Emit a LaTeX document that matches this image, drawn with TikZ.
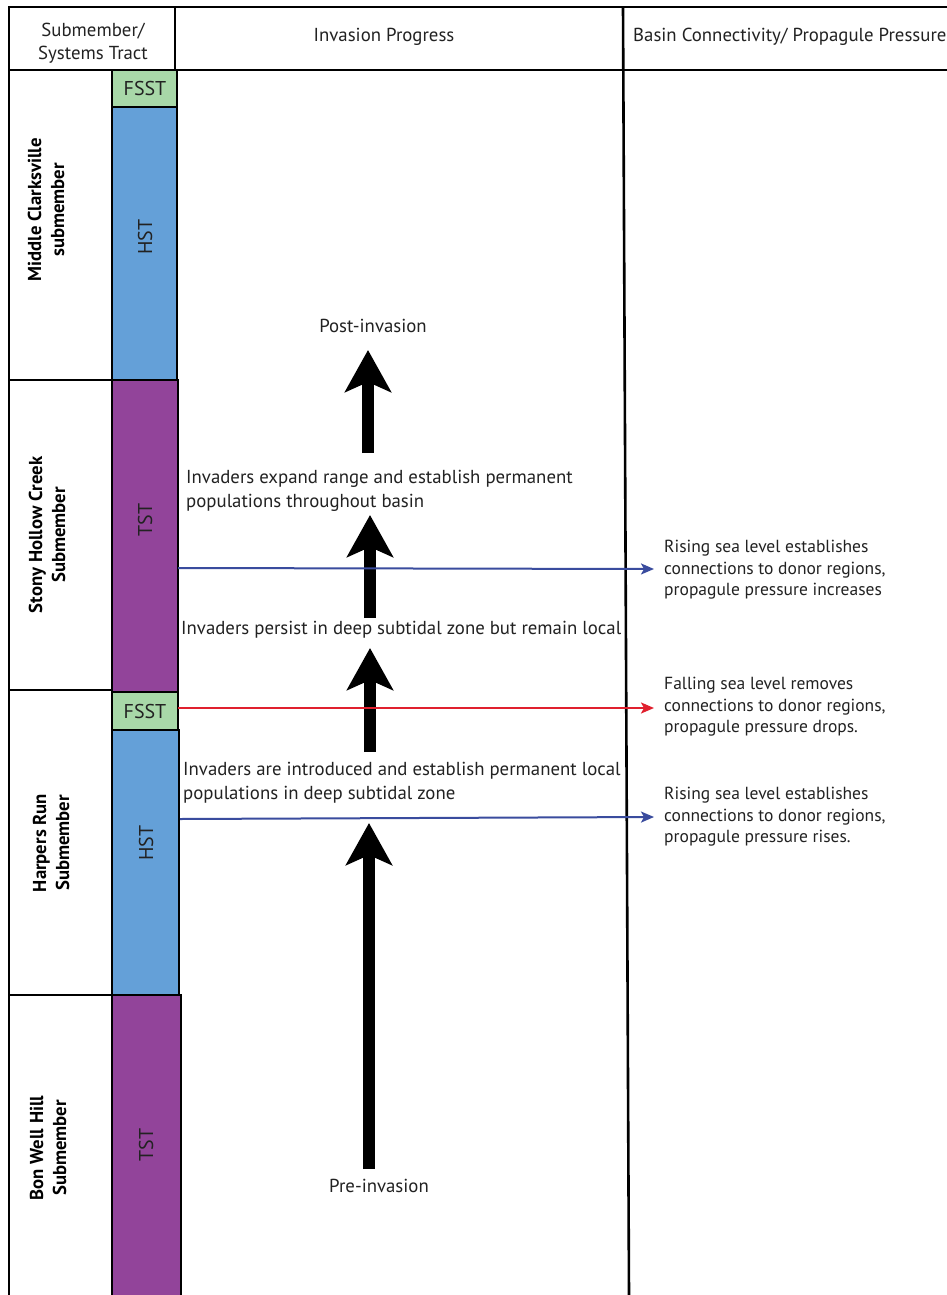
\documentclass[tikz,border=0pt]{standalone}
\usepackage{fontspec}
\setmainfont{PT Sans}
\usetikzlibrary{arrows.meta}
\definecolor{fsst}{HTML}{A8D8A8}
\definecolor{hst}{HTML}{64A0D8}
\definecolor{tst}{HTML}{92449A}
\definecolor{rise}{HTML}{3A4C9E}
\definecolor{fall}{HTML}{E0202E}
\definecolor{ink}{HTML}{222222}
\begin{document}
\begin{tikzpicture}[x=1pt,y=-1pt,
  frame/.style={line width=2.6pt,black},
  bar/.style={draw=black,line width=2.4pt},
  barlbl/.style={font=\fontsize{20}{20}\selectfont,text=ink,inner sep=0pt},
  sublbl/.style={font=\bfseries\fontsize{18.7}{23}\selectfont,align=center,rotate=90,text=black,inner sep=0pt},
  head/.style={font=\fontsize{18.8}{22.5}\selectfont,align=center,text=ink,inner sep=0pt},
  prog/.style={font=\fontsize{18.8}{24}\selectfont,align=left,anchor=base west,text=ink,inner sep=0pt},
  note/.style={font=\fontsize{17.5}{21.5}\selectfont,align=left,anchor=west,text=ink,inner sep=0pt},
  bigarrow/.style={line width=12pt,-{Stealth[length=42pt,width=46pt,inset=10pt]}},
  rising/.style={rise,line width=2pt,-{Stealth[length=13pt,width=11pt,inset=3pt]}},
  falling/.style={fall,line width=2.2pt,-{Stealth[length=13pt,width=11pt,inset=3pt]}},
]
\useasboundingbox (0,0) rectangle (947,1295);
\fill[white] (0,0) rectangle (947,1295);

% bars
\path[bar,fill=fsst] (112,70) rectangle (177,107);
\path[bar,fill=hst] (112,107) rectangle (177,380);
\path[bar,fill=tst] (112,380) rectangle (178,692);
\path[bar,fill=fsst] (112,692) rectangle (178,730);
\path[bar,fill=hst] (112,730) rectangle (179,995);
\path[bar,fill=tst] (112,995) rectangle (181,1300);

% frame
\draw[frame] (8,7) -- (947,7);
\draw[frame] (9,70) -- (947,70);
\draw[frame] (9,7) -- (9,1295);
\draw[frame] (175,7) -- (175,70);
\draw[frame] (623,7) -- (629,1295);
\draw[frame] (9,380) -- (112,380);
\draw[frame] (9,690) -- (112,690);
\draw[frame] (9,995) -- (112,995);

% headers
\node[head] (h1) at (93,43) {Submember/\\Systems Tract};
\node[head] (h2) at (384,37) {Invasion Progress};
\node[head,anchor=west] (h3) at (633,37) {Basin Connectivity/ Propagule Pressure};

% submember labels
\node[sublbl] (s1) at (46,210) {Middle Clarksville\\submember};
\node[sublbl] (s2) at (47,535) {Stony Hollow Creek\\Submember};
\node[sublbl] (s3) at (51,843) {Harpers Run\\Submember};
\node[sublbl] (s4) at (48,1148) {Bon Well Hill\\Submember};

% bar labels
\node[barlbl] (b1) at (145,89) {FSST};
\node[barlbl,rotate=90] (b2) at (145,237) {HST};
\node[barlbl,rotate=90] (b3) at (145,520) {TST};
\node[barlbl] (b4) at (145,711) {FSST};
\node[barlbl,rotate=90] (b5) at (146,843) {HST};
\node[barlbl,rotate=90] (b6) at (146,1145) {TST};

% progress texts
\node[prog,anchor=base] (post) at (373,332) {Post-invasion};
\node[prog] (expand) at (186,507) {Invaders expand range and establish permanent\\populations throughout basin};
\node[prog] (persist) at (181,634) {Invaders persist in deep subtidal zone but remain local};
\node[prog] (intro) at (183,799) {Invaders are introduced and establish permanent local\\populations in deep subtidal zone};
\node[prog,anchor=base] (pre) at (379,1192) {Pre-invasion};

% big arrows
\coordinate (a1s) at (368,453); \coordinate (a1e) at (368,350);
\coordinate (a2s) at (370,618); \coordinate (a2e) at (370,515);
\coordinate (a3s) at (370,752); \coordinate (a3e) at (370,648);
\coordinate (a4s) at (369,1169); \coordinate (a4e) at (369,823);
\draw[bigarrow] (a1s) -- (a1e);
\draw[bigarrow] (a2s) -- (a2e);
\draw[bigarrow] (a3s) -- (a3e);
\draw[bigarrow] (a4s) -- (a4e);

% notes
\node[note] (n1) at (664,570) {Rising sea level establishes\\connections to donor regions,\\propagule pressure increases};
\node[note] (n2) at (664,707) {Falling sea level removes\\connections to donor regions,\\propagule pressure drops.};
\node[note] (n3) at (664,817) {Rising sea level establishes\\connections to donor regions,\\propagule pressure rises.};

% connectors
\coordinate (c1) at (178,568);
\coordinate (c2) at (178,708);
\coordinate (c3) at (180,819);
\draw[rising] (c1) -- ([xshift=-10pt,yshift=1pt]n1.west);
\draw[falling] (c2) -- ([xshift=-10pt,yshift=-1pt]n2.west);
\draw[rising] (c3) -- ([xshift=-10pt]n3.west);
\end{tikzpicture}
\end{document}
